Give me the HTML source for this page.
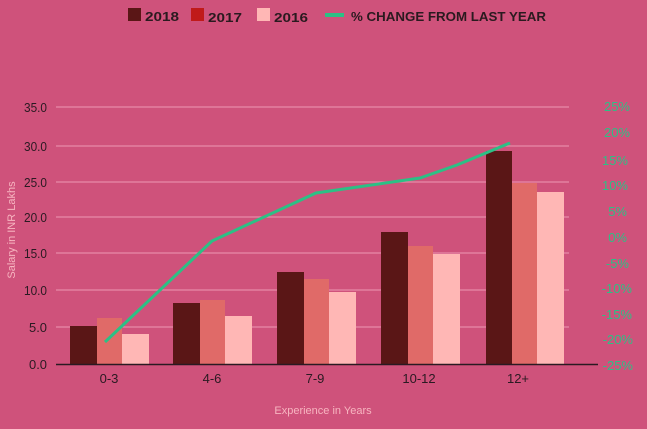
<!DOCTYPE html>
<html><head><meta charset="utf-8"><style>
html,body{margin:0;padding:0;background:#cf527b;}
svg{display:block;font-family:"Liberation Sans",sans-serif;}
</style></head><body>
<svg width="647" height="429" viewBox="0 0 647 429" xmlns="http://www.w3.org/2000/svg">
<rect width="647" height="429" fill="#cf527b"/>
<!-- legend -->
<g font-weight="bold" font-size="13" fill="#2a1a1f">
<rect x="128" y="8" width="13" height="13" fill="#5a1616"/>
<text x="145" y="21" textLength="34" lengthAdjust="spacingAndGlyphs">2018</text>
<rect x="191" y="8" width="13" height="13" fill="#c01a1a"/>
<text x="208" y="22" textLength="34" lengthAdjust="spacingAndGlyphs">2017</text>
<rect x="257" y="8" width="13" height="13" fill="#ffb7b5"/>
<text x="274" y="22" textLength="34" lengthAdjust="spacingAndGlyphs">2016</text>
<rect x="325" y="13" width="19" height="4" fill="#2cc085"/>
<text x="351" y="21" textLength="195" lengthAdjust="spacingAndGlyphs">% CHANGE FROM LAST YEAR</text>
</g>
<!-- grid -->
<g stroke="#e68aa8" stroke-width="1.2">
<line x1="56" x2="569" y1="107" y2="107"/>
<line x1="56" x2="569" y1="146" y2="146"/>
<line x1="56" x2="569" y1="182" y2="182"/>
<line x1="56" x2="569" y1="217" y2="217"/>
<line x1="56" x2="569" y1="253" y2="253"/>
<line x1="56" x2="569" y1="290" y2="290"/>
<line x1="56" x2="569" y1="327" y2="327"/>
</g>
<!-- left ticks -->
<g font-size="13" fill="#2a1a22" text-anchor="end">
<text x="47" y="112" textLength="23" lengthAdjust="spacingAndGlyphs">35.0</text>
<text x="47" y="151" textLength="23" lengthAdjust="spacingAndGlyphs">30.0</text>
<text x="47" y="187" textLength="23" lengthAdjust="spacingAndGlyphs">25.0</text>
<text x="47" y="222" textLength="23" lengthAdjust="spacingAndGlyphs">20.0</text>
<text x="47" y="258" textLength="23" lengthAdjust="spacingAndGlyphs">15.0</text>
<text x="47" y="295" textLength="23" lengthAdjust="spacingAndGlyphs">10.0</text>
<text x="47" y="332" textLength="18" lengthAdjust="spacingAndGlyphs">5.0</text>
<text x="47" y="369" textLength="18" lengthAdjust="spacingAndGlyphs">0.0</text>
</g>
<!-- right ticks -->
<g font-size="13" fill="#2cc085" text-anchor="end">
<text x="630" y="111">25%</text>
<text x="630" y="137">20%</text>
<text x="628" y="165">15%</text>
<text x="628" y="190">10%</text>
<text x="627" y="216">5%</text>
<text x="627" y="242">0%</text>
<text x="629" y="268">-5%</text>
<text x="632" y="293">-10%</text>
<text x="632" y="319">-15%</text>
<text x="633" y="344">-20%</text>
<text x="633" y="370">-25%</text>
</g>
<!-- bars -->
<g>
<rect x="70" y="326" width="27" height="38" fill="#5a1616"/>
<rect x="97" y="318" width="25" height="46" fill="#e06a68"/>
<rect x="122" y="334" width="27" height="30" fill="#ffb7b5"/>

<rect x="173" y="303" width="27" height="61" fill="#5a1616"/>
<rect x="200" y="300" width="25" height="64" fill="#e06a68"/>
<rect x="225" y="316" width="27" height="48" fill="#ffb7b5"/>

<rect x="277" y="272" width="27" height="92" fill="#5a1616"/>
<rect x="304" y="279" width="25" height="85" fill="#e06a68"/>
<rect x="329" y="292" width="27" height="72" fill="#ffb7b5"/>

<rect x="381" y="232" width="27" height="132" fill="#5a1616"/>
<rect x="408" y="246" width="25" height="118" fill="#e06a68"/>
<rect x="433" y="254" width="27" height="110" fill="#ffb7b5"/>

<rect x="486" y="151" width="26" height="213" fill="#5a1616"/>
<rect x="512" y="183" width="25" height="181" fill="#e06a68"/>
<rect x="537" y="192" width="27" height="172" fill="#ffb7b5"/>
</g>
<line x1="56" x2="598" y1="364.5" y2="364.5" stroke="#2a1a22" stroke-width="1.5"/>
<!-- line -->
<polyline points="105,342 212,241 316,193 420,178 457,165 510,143" fill="none" stroke="#2cc085" stroke-width="3"/>
<!-- x labels -->
<g font-size="13" fill="#2a1a22" text-anchor="middle">
<text x="109" y="383">0-3</text>
<text x="212" y="383">4-6</text>
<text x="315" y="383">7-9</text>
<text x="419" y="383">10-12</text>
<text x="518" y="383">12+</text>
</g>
<text x="323" y="414" font-size="11" fill="#f7b5c0" text-anchor="middle">Experience in Years</text>
<text transform="translate(15,230) rotate(-90)" font-size="11" fill="#f7b5c0" text-anchor="middle">Salary in INR Lakhs</text>
</svg>
</body></html>
